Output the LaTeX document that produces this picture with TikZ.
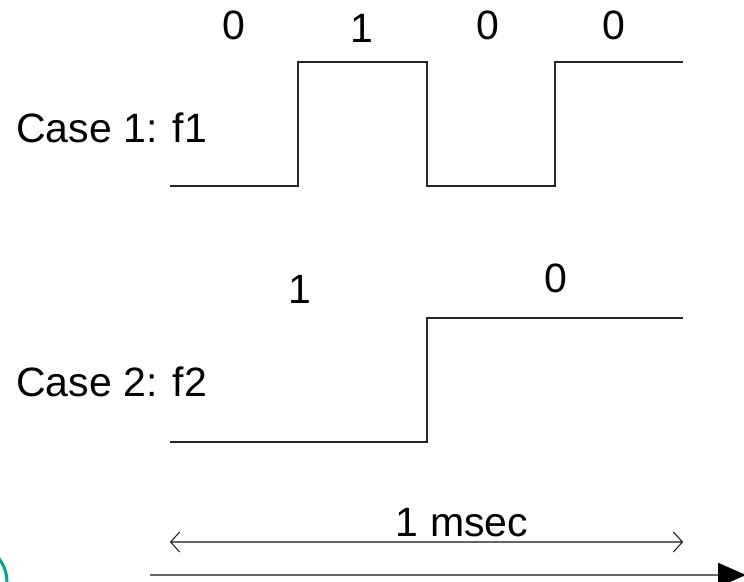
\documentclass[tikz,border=0pt]{standalone}
\usepackage{fontspec}
\setmainfont{Liberation Sans}
\usetikzlibrary{arrows.meta}
\definecolor{tealarc}{RGB}{0,165,155}
\begin{document}
\begin{tikzpicture}[x=1pt,y=-1pt,
  lbl/.style={inner sep=0pt,anchor=base,font=\fontsize{41}{48}\selectfont},
  case/.style={lbl,anchor=base west},
  wave/.style={line width=1.3pt,black!85},
  span/.style={line width=1.6pt,black!60,{Straight Barb[length=9pt,width=20pt,line width=0.9pt,black]}-{Straight Barb[length=9pt,width=20pt,line width=0.9pt,black]}},
  axis/.style={line width=2pt,black!60,-{Triangle[length=28pt,width=24pt,black]}}]
\useasboundingbox (0,0) rectangle (744,581);

% case labels
\node[case] (c1) at (16,142) {Case 1: f1};
\node[case] (c2) at (16,396) {Case 2: f2};

% bit labels above each waveform
\node[lbl] (b11) at (234,39) {0};
\node[lbl] (b12) at (362,42) {1};
\node[lbl] (b13) at (488,39) {0};
\node[lbl] (b14) at (614,39) {0};
\node[lbl] (b21) at (300,303) {1};
\node[lbl] (b22) at (556,292) {0};

% waveform f1: 0 1 0 0
\coordinate (w1s) at (170,186);
\coordinate (w1e) at (683,62);
\draw[wave] (w1s) -- (298,186) -- (298,62) -- (427,62) -- (427,186)
  -- (555,186) -- (555,62) -- (w1e);

% waveform f2: 1 0
\coordinate (w2s) at (170,442);
\coordinate (w2e) at (683,318);
\draw[wave] (w2s) -- (427,442) -- (427,318) -- (w2e);

% duration span
\coordinate (sl) at (170,542);
\coordinate (sr) at (683,542);
\draw[span] (sl) -- (sr);
\node[lbl] (ms) at (462,536) {1 msec};

% time axis
\coordinate (ta) at (150,575);
\coordinate (tb) at (746,575);
\draw[axis] (ta) -- (tb);

% partial ring at the lower left corner
\draw[tealarc,line width=3pt] (-31,582) ++(-45:38) arc (-45:10:38);
\end{tikzpicture}
\end{document}
